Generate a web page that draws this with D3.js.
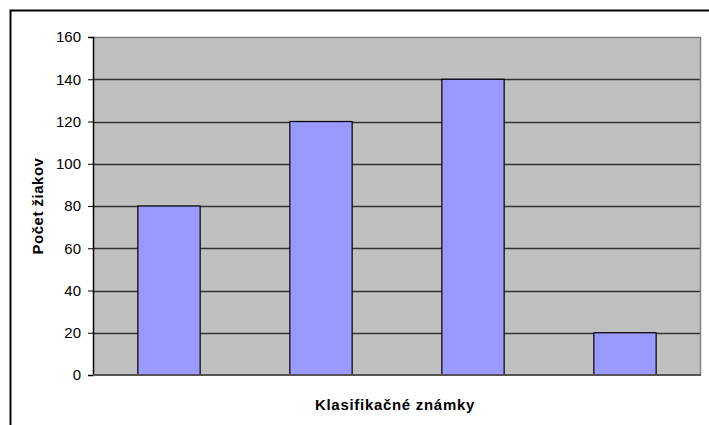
<!DOCTYPE html>
<html>
<head>
<meta charset="utf-8">
<script src="https://cdn.jsdelivr.net/npm/d3@7"></script>
<style>
  body { margin: 0; background: #fff; }
  svg text { font-family: "Liberation Sans", Arial, sans-serif; }
</style>
</head>
<body>
<svg id="chart" width="709" height="425"></svg>
<script>
// data
var categories = ["1", "2", "3", "4"];
var values = [80, 120, 140, 20];
var yTicks = [0, 20, 40, 60, 80, 100, 120, 140, 160];

var svg = d3.select("#chart"),
    margin = {top: 37, right: 8, bottom: 50, left: 93},
    width = +svg.attr("width"),
    height = +svg.attr("height"),
    plotW = width - margin.left - margin.right,
    plotH = height - margin.top - margin.bottom;

// outer chart border, runs off right and bottom
svg.append("rect")
    .attr("x", 10.5).attr("y", 10.5)
    .attr("width", 720).attr("height", 440)
    .attr("fill", "none")
    .attr("stroke", "#000")
    .attr("stroke-width", 2);

var x = d3.scaleBand()
    .domain(categories)
    .range([0, plotW])
    .padding(0);

var y = d3.scaleLinear()
    .domain([0, 160])
    .range([plotH, 0]);

var g = svg.append("g")
    .attr("transform", "translate(" + margin.left + "," + margin.top + ")");

g.append("rect")
    .attr("width", plotW)
    .attr("height", plotH)
    .attr("fill", "#c0c0c0");

// gridlines
g.selectAll("line.grid")
    .data(yTicks.filter(function(d) { return d > 0 && d < 160; }))
  .enter().append("line")
    .attr("class", "grid")
    .attr("x1", 0).attr("x2", plotW)
    .attr("y1", function(d) { return Math.round(y(d)) + 0.5; })
    .attr("y2", function(d) { return Math.round(y(d)) + 0.5; })
    .attr("stroke", "#333")
    .attr("stroke-width", 1.5);

// plot frame (top + right in gray)
g.append("path")
    .attr("d", "M0,0.5H" + (plotW - 0.5) + "V" + plotH)
    .attr("fill", "none")
    .attr("stroke", "#808080")
    .attr("stroke-width", 1.5);

var barW = x.bandwidth() * 0.41;
g.selectAll("rect.bar")
    .data(values)
  .enter().append("rect")
    .attr("class", "bar")
    .attr("x", function(d, i) { return x(categories[i]) + (x.bandwidth() - barW) / 2; })
    .attr("y", function(d) { return y(d); })
    .attr("width", barW)
    .attr("height", function(d) { return plotH - y(d); })
    .attr("fill", "#9999ff")
    .attr("stroke", "#000")
    .attr("stroke-width", 1.2);

// y axis
var yAxis = g.append("g")
    .call(d3.axisLeft(y).tickValues(yTicks).tickSize(5).tickPadding(7));
yAxis.select(".domain").attr("stroke", "#000").attr("stroke-width", 1.5);
yAxis.selectAll(".tick line").attr("stroke", "#000");
yAxis.selectAll("text")
    .attr("font-size", 15)
    .attr("fill", "#000")
    .style("font-family", "Liberation Sans, Arial, sans-serif");

// x baseline
g.append("line")
    .attr("x1", 0).attr("x2", plotW)
    .attr("y1", plotH).attr("y2", plotH)
    .attr("stroke", "#555")
    .attr("stroke-width", 2);

// axis titles
svg.append("text")
    .attr("x", 395)
    .attr("y", 410)
    .attr("text-anchor", "middle")
    .attr("font-size", 15)
    .attr("font-weight", "bold")
    .attr("letter-spacing", 0.7)
    .text("Klasifikačné známky");

svg.append("text")
    .attr("transform", "translate(43," + (margin.top + plotH / 2) + ") rotate(-90)")
    .attr("text-anchor", "middle")
    .attr("font-size", 15)
    .attr("font-weight", "bold")
    .attr("letter-spacing", 0.5)
    .text("Počet žiakov");
</script>
</body>
</html>
